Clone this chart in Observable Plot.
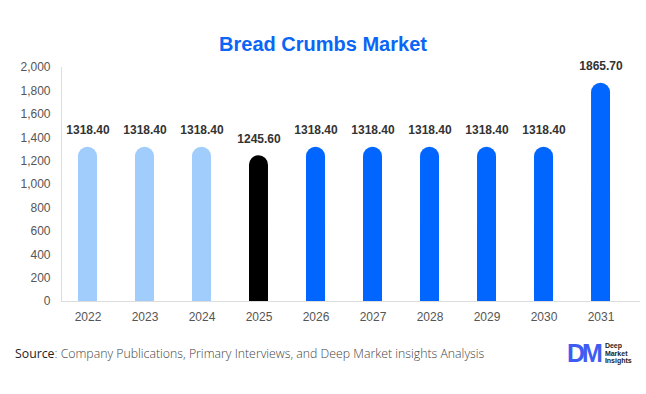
<!DOCTYPE html>
<html>
<head>
<meta charset="utf-8">
<script src="https://cdn.jsdelivr.net/npm/d3@7"></script>
<script src="https://cdn.jsdelivr.net/npm/@observablehq/plot@0.6"></script>
<style>
  body { margin: 0; background: #fff; width: 646px; height: 394px; overflow: hidden; font-family: "Liberation Sans", Arial, sans-serif; }
  #title { height: 57px; line-height: 57px; padding-top: 16px; box-sizing: border-box; text-align: center; font-size: 20px; font-weight: bold; color: #0a66f5; }
  #chart svg { display: block; }
  #footer { position: relative; height: 67px; }
  #source { position: absolute; left: 15px; top: 18px; font-family: "Open Sans", sans-serif; font-size: 12.3px; color: #444; font-weight: 300; letter-spacing: 0px; }
  #source b { font-weight: 500; color: #222; }
  #logo { position: absolute; left: 567px; top: 12px; display: flex; align-items: center; }
  #logo .dm { font-family: "Liberation Sans", sans-serif; font-weight: bold; font-size: 25px; color: #3f5cf2; letter-spacing: -3px; }
  #logo .txt { font-size: 7px; line-height: 7.5px; color: #222; margin-left: 5px; font-weight: bold; }
</style>
</head>
<body>
<div id="title">Bread Crumbs Market</div>
<div id="chart"></div>
<div id="footer">
  <div id="source"><b>Source</b>: Company Publications, Primary Interviews, and Deep Market insights Analysis</div>
  <div id="logo"><span class="dm">DM</span><span class="txt">Deep<br>Market<br>Insights</span></div>
</div>
<script>
const years = ["2022","2023","2024","2025","2026","2027","2028","2029","2030","2031"];
const values = [1318.40, 1318.40, 1318.40, 1245.60, 1318.40, 1318.40, 1318.40, 1318.40, 1318.40, 1865.70];
const kinds = ["past","past","past","current","forecast","forecast","forecast","forecast","forecast","forecast"];
const yTicks = [0,200,400,600,800,1000,1200,1400,1600,1800,2000];

const data = years.map((y, i) => ({year: y, value: values[i], kind: kinds[i]}));
const colorMap = {past: "#a0cdfb", current: "#000000", forecast: "#0066ff"};

const chart = Plot.plot({
  width: 646,
  height: 270,
  marginLeft: 61,
  marginRight: 6,
  marginTop: 10,
  marginBottom: 26,
  style: {fontFamily: "Liberation Sans, Arial, sans-serif", fontSize: "12px", color: "#555", background: "#fff"},
  x: {domain: years, range: [59, 629], paddingInner: 0.667, paddingOuter: 0.333, round: false, label: null},
  y: {domain: [0, 2000], label: null},
  marks: [
    Plot.frame({anchor: "left", stroke: "#ddd"}),
    Plot.ruleY([0], {stroke: "#ddd"}),
    Plot.barY(data, {x: "year", y: "value", fill: d => colorMap[d.kind], rx: 9.5}),
    Plot.barY(data, {x: "year", y: d => d.value / 2, fill: d => colorMap[d.kind]}),
    Plot.text(data, {x: "year", y: "value", text: d => d.value.toFixed(2), dy: -17, fontWeight: "bold", fontSize: 12, fill: "#333"}),
    Plot.axisY({ticks: yTicks, tickFormat: d3.format(","), tickSize: 0, tickPadding: 11, fontSize: 12, fill: "#555"}),
    Plot.axisX({tickSize: 0, tickPadding: 11, fontSize: 12, fill: "#555"})
  ]
});
document.getElementById("chart").appendChild(chart);
</script>
</body>
</html>
